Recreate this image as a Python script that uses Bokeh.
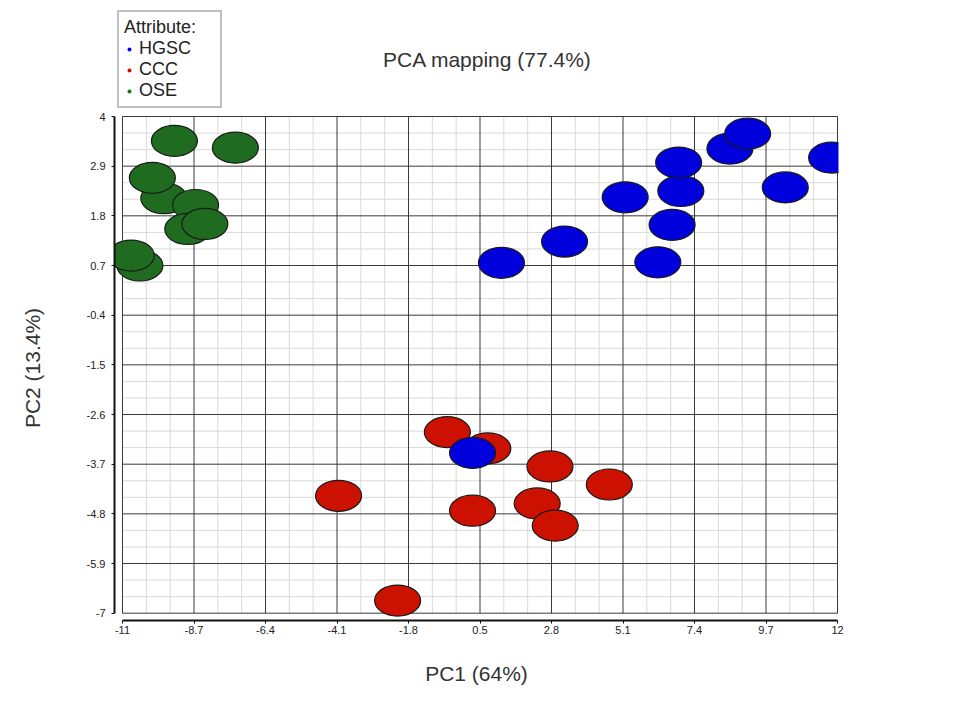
from bokeh.plotting import figure
from bokeh.layouts import column
from bokeh.models import FixedTicker, Legend, LegendItem, Range1d, Label
from bokeh.embed import file_html
from bokeh.resources import INLINE

# ---- data ----
x_ticks = [-11, -8.7, -6.4, -4.1, -1.8, 0.5, 2.8, 5.1, 7.4, 9.7, 12]
x_tick_labels = ["-11", "-8.7", "-6.4", "-4.1", "-1.8", "0.5", "2.8", "5.1", "7.4", "9.7", "12"]
y_ticks = [-7, -5.9, -4.8, -3.7, -2.6, -1.5, -0.4, 0.7, 1.8, 2.9, 4]
y_tick_labels = ["-7", "-5.9", "-4.8", "-3.7", "-2.6", "-1.5", "-0.4", "0.7", "1.8", "2.9", "4"]

ccc_pc1 = [0.75, -0.55, 2.75, 4.66, 0.26, 2.34, 2.92, -4.05, -2.15]
ccc_pc2 = [-3.35, -2.99, -3.75, -4.15, -4.73, -4.57, -5.06, -4.40, -6.72]

hgsc_pc1 = [5.17, 6.96, 6.89, 6.68, 6.22, 8.54, 9.11, 10.32, 11.81, 3.22, 1.19, 0.26]
hgsc_pc2 = [2.21, 2.35, 2.98, 1.60, 0.77, 3.29, 3.62, 2.43, 3.09, 1.23, 0.76, -3.45]

ose_pc1 = [-9.33, -7.37, -9.67, -10.04, -8.65, -8.90, -8.35, -10.44, -10.72]
ose_pc2 = [3.46, 3.31, 2.19, 2.64, 2.04, 1.51, 1.62, 0.70, 0.92]

title_text = "PCA mapping (77.4%)"
x_label = "PC1 (64%)"
y_label = "PC2 (13.4%)"
legend_title = "Attribute:"
groups = ["HGSC", "CCC", "OSE"]

# ---- styling ----
FONT = "Liberation Sans"
C_HGSC, C_CCC, C_OSE = "#0000DD", "#CC1100", "#1F6B1F"
L_HGSC, L_CCC, L_OSE = "#0000EE", "#EE0000", "#117711"

W = 948
LEFT, RIGHT = 114, 110
TOP_H = 109

# ---------- header strip (title + legend) ----------
top = figure(width=W, height=TOP_H,
             x_range=Range1d(LEFT, W - RIGHT), y_range=Range1d(0, TOP_H),
             x_axis_location=None, y_axis_location=None,
             min_border_left=LEFT, min_border_right=RIGHT, min_border_top=0, min_border_bottom=0,
             output_backend="svg", toolbar_location=None)
top.outline_line_color = None
top.xgrid.grid_line_color = None
top.ygrid.grid_line_color = None
top.background_fill_color = "white"
top.border_fill_color = "white"

top.add_layout(Label(x=487, y=TOP_H - 59, text=title_text, text_align="center",
                     text_baseline="alphabetic", text_font=FONT, text_font_size="21px",
                     text_color="#333333"))

# legend proxies (hidden; the legend shows their small dot glyphs)
leg_r = []
for xs, ys, col in ((hgsc_pc1, hgsc_pc2, L_HGSC), (ccc_pc1, ccc_pc2, L_CCC), (ose_pc1, ose_pc2, L_OSE)):
    leg_r.append(top.scatter(x=xs, y=ys, size=7, marker="circle", fill_color=col,
                             line_color=None, visible=False))

legend = Legend(
    items=[LegendItem(label=g, renderers=[r]) for g, r in zip(groups, leg_r)],
    title=legend_title,
    location=(3, 1),
    title_text_font=FONT, title_text_font_size="18px", title_text_font_style="normal",
    title_text_color="#222222", title_standoff=0,
    label_text_font=FONT, label_text_font_size="18px", label_text_color="#222222",
    border_line_color="#808080", border_line_width=2,
    background_fill_color="white", background_fill_alpha=1,
    inactive_fill_alpha=0,
    padding=5, spacing=0, margin=0,
    glyph_width=10, glyph_height=16, label_height=16, label_standoff=5, label_width=76,
)
top.add_layout(legend, "center")

# ---------- main plot ----------
sx = 715.0 / (x_ticks[-1] - x_ticks[0])
sy = 496.7 / (y_ticks[-1] - y_ticks[0])

p = figure(
    width=W, height=599,
    min_border_left=LEFT, min_border_right=RIGHT,
    min_border_top=6, min_border_bottom=88,
    x_range=Range1d(x_ticks[0] - 8 / sx, x_ticks[-1] + 1 / sx),
    y_range=Range1d(y_ticks[0] - 7.3 / sy, y_ticks[-1] + 1 / sy),
    output_backend="svg", toolbar_location=None,
)
p.outline_line_color = None
p.background_fill_color = "white"
p.border_fill_color = "white"
p.xgrid.grid_line_color = None
p.ygrid.grid_line_color = None

for ax, ticks, labels in ((p.xaxis[0], x_ticks, x_tick_labels), (p.yaxis[0], y_ticks, y_tick_labels)):
    ax.ticker = FixedTicker(ticks=ticks, minor_ticks=[])
    ax.major_label_overrides = dict(zip(ticks, labels))
    ax.bounds = (ticks[0], ticks[-1])
    ax.axis_line_color = "#111111"
    ax.axis_line_width = 2
    ax.major_tick_line_color = "#111111"
    ax.major_tick_line_width = 1
    ax.major_tick_in = 0
    ax.major_tick_out = 3
    ax.minor_tick_line_color = None
    ax.major_label_text_font = FONT
    ax.major_label_text_font_size = "11px"
    ax.major_label_text_color = "#222222"
    ax.axis_label_text_font = FONT
    ax.axis_label_text_font_size = "21px"
    ax.axis_label_text_font_style = "normal"
    ax.axis_label_text_color = "#333333"

p.xaxis.axis_label = x_label
p.yaxis.axis_label = y_label
p.xaxis.major_label_standoff = 2
p.yaxis.major_label_standoff = 6
p.xaxis.axis_label_standoff = 25
p.yaxis.axis_label_standoff = 40

# grid lines (minor: thirds between major ticks)
minor_x = [a + (b - a) * k / 3 for a, b in zip(x_ticks[:-1], x_ticks[1:]) for k in (1, 2)]
minor_y = [a + (b - a) * k / 3 for a, b in zip(y_ticks[:-1], y_ticks[1:]) for k in (1, 2)]
p.segment(x0=minor_x, y0=y_ticks[0], x1=minor_x, y1=y_ticks[-1], line_color="#d9d9d9", line_width=1)
p.segment(x0=x_ticks[0], y0=minor_y, x1=x_ticks[-1], y1=minor_y, line_color="#d9d9d9", line_width=1)
p.segment(x0=x_ticks, y0=y_ticks[0], x1=x_ticks, y1=y_ticks[-1], line_color="#3a3a3a", line_width=1)
p.segment(x0=x_ticks[0], y0=y_ticks, x1=x_ticks[-1], y1=y_ticks, line_color="#3a3a3a", line_width=1)

for xs, ys, col in ((ccc_pc1, ccc_pc2, C_CCC), (hgsc_pc1, hgsc_pc2, C_HGSC), (ose_pc1, ose_pc2, C_OSE)):
    p.ellipse(x=xs, y=ys, width=46, height=31, width_units="screen", height_units="screen",
              fill_color=col, line_color="#1a1a1a", line_width=1.2)

layout = column(top, p, spacing=0)
open("out.html", "w").write(file_html(layout, INLINE))
